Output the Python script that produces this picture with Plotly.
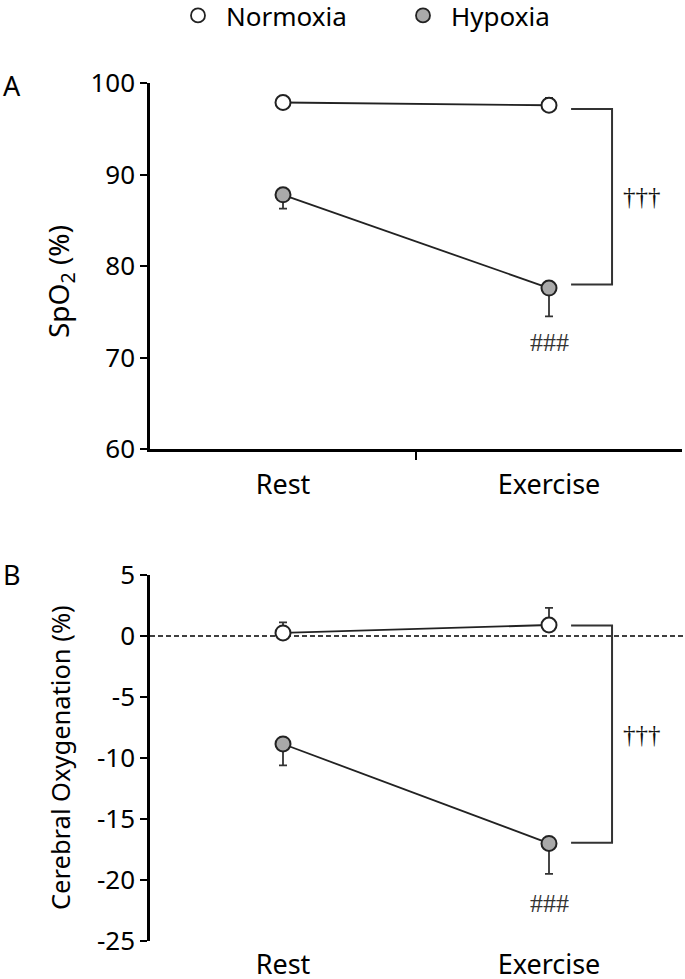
import plotly.graph_objects as go

# ---------------- data ----------------
conditions = ["Rest", "Exercise"]
cond_x = [0, 1]

spo2_normoxia = [97.9, 97.6]
spo2_normoxia_sd = [0.3, 0.8]
spo2_hypoxia = [87.8, 77.6]
spo2_hypoxia_sd = [1.5, 3.1]

cereb_normoxia = [0.25, 0.9]
cereb_normoxia_sd = [0.86, 1.4]
cereb_hypoxia = [-8.85, -17.0]
cereb_hypoxia_sd = [1.75, 2.5]

spo2_ticks = [60, 70, 80, 90, 100]
cereb_ticks = [5, 0, -5, -10, -15, -20, -25]

# significance bracket levels (top, bottom) and labels
spo2_bracket = [97.2, 78.0]
cereb_bracket = [0.87, -16.94]
between_label = "†††"
within_label = "###"
spo2_within_y = 71.7
cereb_within_y = -21.9

W, H = 685, 979
FONT = "Noto Sans"
SERIF = "Liberation Serif"
INK = "#222222"
GREY = "#a9a9a9"

fig = go.Figure()


def add_series(xa, ya, yvals, sd, up, fill, name):
    fig.add_trace(go.Scatter(
        x=cond_x, y=yvals, xaxis=xa, yaxis=ya, mode="lines+markers",
        name=name, showlegend=False,
        line=dict(color=INK, width=1.8),
        marker=dict(size=15, color=fill, line=dict(color=INK, width=2)),
        error_y=dict(type="data", symmetric=False,
                     array=sd if up else [0] * len(sd),
                     arrayminus=[0] * len(sd) if up else sd,
                     color="#333333", thickness=1.8, width=4),
        cliponaxis=False,
    ))


add_series("x", "y", spo2_normoxia, spo2_normoxia_sd, True, "white", "Normoxia")
add_series("x", "y", spo2_hypoxia, spo2_hypoxia_sd, False, GREY, "Hypoxia")
add_series("x2", "y2", cereb_normoxia, cereb_normoxia_sd, True, "white", "Normoxia")
add_series("x2", "y2", cereb_hypoxia, cereb_hypoxia_sd, False, GREY, "Hypoxia")

# legend-only entries
for name, fill in [("Normoxia", "white"), ("Hypoxia", GREY)]:
    fig.add_trace(go.Scatter(
        x=[None], y=[None], mode="markers", name=name, showlegend=True,
        marker=dict(size=14, color=fill, line=dict(color=INK, width=1.8)),
    ))

xdom = [150 / W, 682 / W]
ydomA = [1 - 449 / H, 1 - 83.3 / H]
ydomB = [1 - 941 / H, 1 - 575 / H]

axis_common = dict(showgrid=False, zeroline=False, color="black")

fig.update_layout(
    width=W, height=H,
    margin=dict(l=0, r=0, t=0, b=0, autoexpand=False),
    paper_bgcolor="white", plot_bgcolor="white",
    font=dict(family=FONT, color="black", size=24),
    showlegend=True,
    legend=dict(orientation="h", x=170 / W, xanchor="left", y=1 + 8 / H,
                yanchor="top", font=dict(size=26, family=FONT), itemwidth=46,
                entrywidth=164, bgcolor="rgba(0,0,0,0)", traceorder="normal"),
    xaxis=dict(domain=xdom, range=[-0.5, 1.5], anchor="y",
               showline=True, linewidth=2.5, linecolor="black",
               tickmode="array", tickvals=cond_x, ticktext=conditions,
               ticks="", ticklabelstandoff=10,
               tickfont=dict(size=27),
               minor=dict(tickmode="array", tickvals=[0.5], ticks="outside",
                          ticklen=8, tickwidth=2, tickcolor="black"),
               **axis_common),
    yaxis=dict(domain=ydomA, range=[60, 100], anchor="x",
               showline=True, linewidth=2.5, linecolor="black",
               tickmode="array", tickvals=spo2_ticks,
               ticktext=[str(v) for v in spo2_ticks],
               ticks="outside", ticklen=7, tickwidth=2, tickcolor="black",
               tickfont=dict(size=26), ticklabelstandoff=0,
               **axis_common),
    xaxis2=dict(domain=xdom, range=[-0.5, 1.5], anchor="y2",
                showline=False,
                tickmode="array", tickvals=cond_x, ticktext=conditions,
                ticks="", ticklabelstandoff=5,
                tickfont=dict(size=27),
                **axis_common),
    yaxis2=dict(domain=ydomB, range=[-25, 5], anchor="x2",
                showline=True, linewidth=2.5, linecolor="black",
                tickmode="array", tickvals=cereb_ticks,
                ticktext=[str(v) for v in cereb_ticks],
                ticks="outside", ticklen=7, tickwidth=2, tickcolor="black",
                tickfont=dict(size=26), ticklabelstandoff=0,
                **axis_common),
)

# zero reference line in panel B
fig.add_shape(type="line", xref="x2 domain", yref="y2", x0=0, x1=1.01, y0=0, y1=0,
              line=dict(color="black", width=1.5, dash="5px,3px"), layer="below")

# significance brackets
bx0, bx1 = cond_x[1] + 0.083, cond_x[1] + 0.237
for xa, ya, (top, bot) in [("x", "y", spo2_bracket), ("x2", "y2", cereb_bracket)]:
    fig.add_shape(type="path", xref=xa, yref=ya,
                  path=f"M {bx0},{top} L {bx1},{top} L {bx1},{bot} L {bx0},{bot}",
                  line=dict(color="#333333", width=2))
    fig.add_annotation(xref=xa, yref=ya, x=bx1 + 0.035, y=(top + bot) / 2,
                       text=between_label, showarrow=False, xanchor="left",
                       yanchor="middle",
                       font=dict(family=SERIF, size=25, color="#111111"))

for xa, ya, yy in [("x", "y", spo2_within_y), ("x2", "y2", cereb_within_y)]:
    fig.add_annotation(xref=xa, yref=ya, x=cond_x[1], y=yy, text=within_label,
                       showarrow=False, xanchor="center", yanchor="middle",
                       font=dict(family=SERIF, size=26, color="#333333"))

# axis titles
fig.add_annotation(xref="paper", yref="paper", x=60 / W, y=1 - 282 / H,
                   text="SpO<sub>2</sub> (%)", textangle=-90, showarrow=False,
                   xanchor="center", yanchor="middle", font=dict(size=28))
fig.add_annotation(xref="paper", yref="paper", x=60 / W, y=1 - 758 / H,
                   text="Cerebral Oxygenation (%)", textangle=-90, showarrow=False,
                   xanchor="center", yanchor="middle", font=dict(size=25.5))

# panel letters
for letter, ypx in [("A", 85), ("B", 574)]:
    fig.add_annotation(xref="paper", yref="paper", x=12 / W, y=1 - ypx / H,
                       text=letter, showarrow=False, xanchor="center",
                       yanchor="middle", font=dict(size=27))

fig.write_html("out.html", config={"displayModeBar": False},
               post_script="document.body.style.margin='0';")
